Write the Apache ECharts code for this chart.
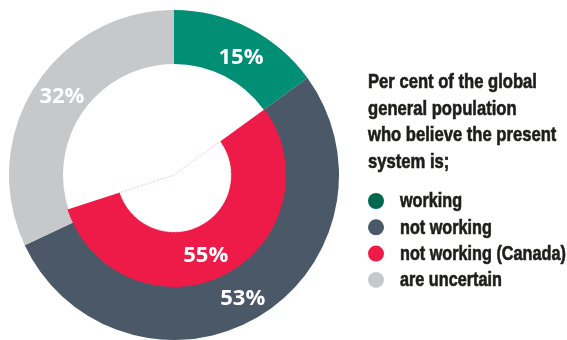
<!DOCTYPE html>
<html>
<head>
<meta charset="utf-8">
<script src="https://cdn.jsdelivr.net/npm/echarts@6/dist/echarts.min.js"></script>
<style>
html,body{margin:0;padding:0;background:#fff;}
#chart{width:567px;height:340px;}
</style>
</head>
<body>
<div id="chart"></div>
<script>
// Data
const outerNames = ['working', 'not working', 'are uncertain'];
const outerValues = [15, 53, 32];
const innerName = 'not working (Canada)';
const innerValue = 55;
const legendNames = ['working', 'not working', 'not working (Canada)', 'are uncertain'];
const titleLines = ['Per cent of the global', 'general population', 'who believe the present', 'system is;'];

// Styles
const pieColors = {'working': '#008f75', 'not working': '#4a5867', 'are uncertain': '#c7c8ca', 'not working (Canada)': '#ee1a47'};
const legendColors = {'working': '#00674f', 'not working': '#4a5867', 'not working (Canada)': '#ee1a47', 'are uncertain': '#c7c8ca'};
const textColor = '#1d1d1b';
const labelStyle = {show: true, position: 'inside', formatter: '{c}%', color: '#fff', fontSize: 22, fontWeight: 'bold', fontFamily: "'Open Sans', sans-serif"};
// small label nudges [series][dataIndex] -> [dx, dy]
const nudges = [[[3, 8], [-3, 2], [7, -2.5]], [[-8, 3]]];

function txt(t, x, y, sx) {
  return {type: 'text', x: x, y: y, scaleX: sx, silent: true,
    style: {text: t, fontSize: 19.8, fontWeight: 'bold', fontFamily: '"Liberation Sans", Arial, sans-serif',
      fill: textColor, stroke: textColor, lineWidth: 0.6, verticalAlign: 'middle', align: 'left'}};
}
const graphics = [];
titleLines.forEach((t, i) => graphics.push(txt(t, 368, 83 + i * 26.4, 0.84)));
legendNames.forEach((t, i) => graphics.push(txt(t, 400, 202 + i * 26.3, 0.82)));

const chart = echarts.init(document.getElementById('chart'), null, {renderer: 'canvas'});
chart.setOption({
  animation: false,
  legend: {
    orient: 'vertical', left: 368, top: 193, padding: 0,
    itemWidth: 16, itemHeight: 16, itemGap: 10.3,
    icon: 'circle', selectedMode: false,
    textStyle: {fontSize: 12, lineHeight: 16, color: 'rgba(0,0,0,0)'},
    data: legendNames.map(n => ({name: n, itemStyle: {color: legendColors[n]}}))
  },
  graphic: graphics,
  series: [
    {
      type: 'pie', radius: [111, 165], center: [174, 175], startAngle: 90, clockwise: true,
      silent: true, label: labelStyle, labelLine: {show: false},
      itemStyle: {borderWidth: 0},
      labelLayout: p => ({dx: nudges[0][p.dataIndex][0], dy: nudges[0][p.dataIndex][1]}),
      data: outerNames.map((n, i) => ({name: n, value: outerValues[i], itemStyle: {color: pieColors[n]}}))
    },
    {
      type: 'pie', radius: [57, 112], center: [174, 175], startAngle: 90 - outerValues[0] * 3.6, clockwise: true,
      silent: true, label: labelStyle, labelLine: {show: false},
      labelLayout: p => (p.dataIndex === 0 ? {dx: nudges[1][0][0], dy: nudges[1][0][1]} : {}),
      data: [
        {name: innerName, value: innerValue, itemStyle: {color: pieColors[innerName]}},
        {name: 'rest', value: 100 - innerValue, itemStyle: {color: 'rgba(0,0,0,0)'}, label: {show: false}}
      ]
    },
    {
      type: 'pie', radius: [0, 57], center: [174, 175], startAngle: 90 - outerValues[0] * 3.6, clockwise: true,
      silent: true, label: {show: false}, labelLine: {show: false},
      data: [
        {name: 'edge', value: innerValue, itemStyle: {color: '#fff', borderColor: '#f3b9c6', borderWidth: 0.7, borderType: 'dashed'}},
        {name: 'edge2', value: 100 - innerValue, itemStyle: {color: 'rgba(0,0,0,0)'}}
      ]
    }
  ]
});
</script>
</body>
</html>
